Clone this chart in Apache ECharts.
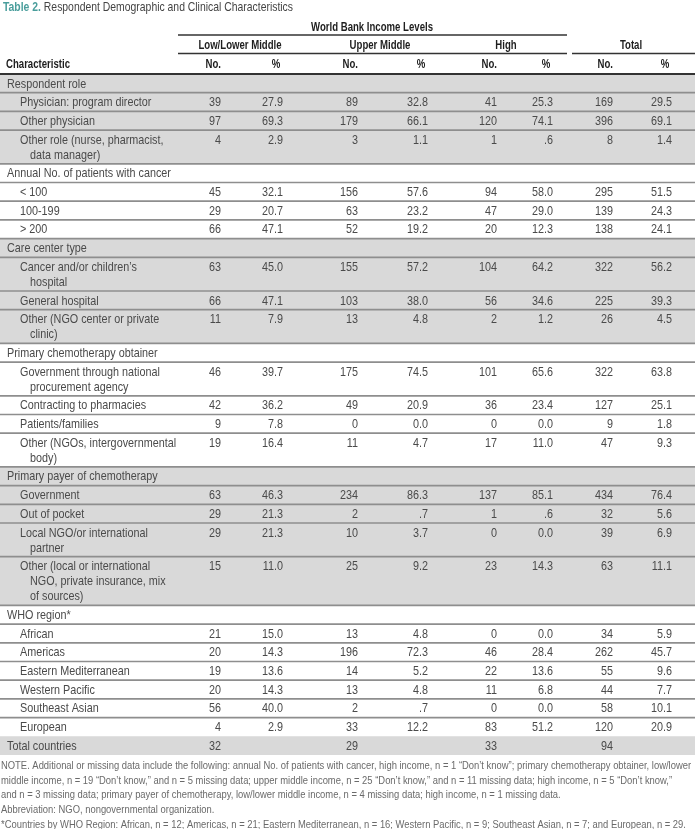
<!DOCTYPE html>
<html><head><meta charset="utf-8">
<script src="https://cdn.jsdelivr.net/npm/echarts@6/dist/echarts.min.js"></script>
<style>html,body{margin:0;padding:0;background:#fff}#c{width:695px;height:829px}</style>
</head><body><div id="c"></div>
<script>
// ---------------- DATA ----------------
const sectionNames = ["Respondent role", "Annual No. of patients with cancer", "Care center type",
  "Primary chemotherapy obtainer", "Primary payer of chemotherapy", "WHO region*"];
const itemSection = [0,0,0, 1,1,1, 2,2,2, 3,3,3,3, 4,4,4,4, 5,5,5,5,5,5];
const itemLabels = [
  "Physician: program director", "Other physician", "Other role (nurse, pharmacist,\ndata manager)",
  "< 100", "100-199", "> 200",
  "Cancer and/or children\u2019s\nhospital", "General hospital", "Other (NGO center or private\nclinic)",
  "Government through national\nprocurement agency", "Contracting to pharmacies", "Patients/families", "Other (NGOs, intergovernmental\nbody)",
  "Government", "Out of pocket", "Local NGO/or international\npartner", "Other (local or international\nNGO, private insurance, mix\nof sources)",
  "African", "Americas", "Eastern Mediterranean", "Western Pacific", "Southeast Asian", "European"
];
const lowNo    = [39,97,4, 45,29,66, 63,66,11, 46,42,9,19, 63,29,29,15, 21,20,19,20,56,4];
const lowPct   = [27.9,69.3,2.9, 32.1,20.7,47.1, 45.0,47.1,7.9, 39.7,36.2,7.8,16.4, 46.3,21.3,21.3,11.0, 15.0,14.3,13.6,14.3,40.0,2.9];
const upperNo  = [89,179,3, 156,63,52, 155,103,13, 175,49,0,11, 234,2,10,25, 13,196,14,13,2,33];
const upperPct = [32.8,66.1,1.1, 57.6,23.2,19.2, 57.2,38.0,4.8, 74.5,20.9,0.0,4.7, 86.3,0.7,3.7,9.2, 4.8,72.3,5.2,4.8,0.7,12.2];
const highNo   = [41,120,1, 94,47,20, 104,56,2, 101,36,0,17, 137,1,0,23, 0,46,22,11,0,83];
const highPct  = [25.3,74.1,0.6, 58.0,29.0,12.3, 64.2,34.6,1.2, 65.6,23.4,0.0,11.0, 85.1,0.6,0.0,14.3, 0.0,28.4,13.6,6.8,0.0,51.2];
const totalNo  = [169,396,8, 295,139,138, 322,225,26, 322,127,9,47, 434,32,39,63, 34,262,55,44,58,120];
const totalPct = [29.5,69.1,1.4, 51.5,24.3,24.1, 56.2,39.3,4.5, 63.8,25.1,1.8,9.3, 76.4,5.6,6.9,11.1, 5.9,45.7,9.6,7.7,10.1,20.9];
const totalCountriesLabel = "Total countries";
const totalCountries = [32, 29, 33, 94];
const groupNames = ["Low/Lower Middle", "Upper Middle", "High", "Total"];
const spanTitle = "World Bank Income Levels";
const noteLines = [
  "NOTE. Additional or missing data include the following: annual No. of patients with cancer, high income, n = 1 \u201cDon\u2019t know\u201d; primary chemotherapy obtainer, low/lower",
  "middle income, n = 19 \u201cDon\u2019t know,\u201d and n = 5 missing data; upper middle income, n = 25 \u201cDon\u2019t know,\u201d and n = 11 missing data; high income, n = 5 \u201cDon\u2019t know,\u201d",
  "and n = 3 missing data; primary payer of chemotherapy, low/lower middle income, n = 4 missing data; high income, n = 1 missing data.",
  "Abbreviation: NGO, nongovernmental organization.",
  "*Countries by WHO Region: African, n = 12; Americas, n = 21; Eastern Mediterranean, n = 16; Western Pacific, n = 9; Southeast Asian, n = 7; and European, n = 29."
];

// ---------------- LAYOUT ----------------
const W = 695;
const FONT = '"Liberation Sans", Arial, sans-serif';
const SX = 0.8;           // horizontal condensing to mimic a narrow typeface
const BODY = 13.5;
const ROW_H = 18.7, LINE_H = 15, TABLE_TOP = 74;
const colRight = [221, 283, 358, 428, 497, 553, 613, 672];
const groupCenter = [240, 380, 506, 631];
const TXT = '#4a4a4a', HEAD = '#1e1e1e', SHADE = '#d9d9d9', SEP = '#8e8e8e';

function fmtPct(v) { let s = v.toFixed(1); if (v > 0 && v < 1) s = s.slice(1); return s; }
function txt(x, y, text, o) {
  o = o || {};
  return {type: 'text', x: x, y: y, scaleX: o.sx || SX, silent: true,
    style: {text: text, x: 0, y: 0, align: o.align || 'left', verticalAlign: 'middle',
      fontSize: o.size || BODY, fontFamily: FONT, fontWeight: o.weight || 'normal', fill: o.fill || TXT, rich: o.rich}};
}

const rows = [];
sectionNames.forEach((s, si) => {
  const shaded = si % 2 === 0;
  rows.push({kind: 'section', label: [s], shaded});
  itemSection.forEach((sec, i) => {
    if (sec === si) rows.push({kind: 'item', label: itemLabels[i].split('\n'), idx: i, shaded});
  });
});
rows.push({kind: 'total', label: [totalCountriesLabel], shaded: true});
let acc = 0;
rows.forEach(r => { r.top = acc; r.h = ROW_H + (r.label.length - 1) * LINE_H; acc += r.h; });
const tableH = acc;

function renderRow(params, api) {
  const i = api.value(0);
  const r = rows[i];
  const p0 = api.coord([0, r.top]);
  const p1 = api.coord([W, r.top + r.h]);
  const ch = [];
  if (r.shaded) ch.push({type: 'rect', shape: {x: p0[0], y: p0[1], width: p1[0] - p0[0], height: p1[1] - p0[1]}, style: {fill: SHADE}});
  if (i === 0) {
    ch.push({type: 'line', shape: {x1: p0[0], y1: p0[1], x2: p1[0], y2: p0[1]}, style: {stroke: '#333', lineWidth: 2}});
  } else if (r.kind !== 'total') {
    ch.push({type: 'line', shape: {x1: p0[0], y1: p0[1], x2: p1[0], y2: p0[1]}, style: {stroke: SEP, lineWidth: 1.7}});
  }
  const firstY = p0[1] + ROW_H / 2 + 0.5;
  r.label.forEach((t, k) => {
    const x = r.kind === 'item' ? (k === 0 ? 20 : 30) : 7;
    ch.push(txt(api.coord([x, 0])[0], firstY + k * LINE_H, t));
  });
  let vals = null;
  if (r.kind === 'item') {
    const j = r.idx;
    vals = [lowNo[j], fmtPct(lowPct[j]), upperNo[j], fmtPct(upperPct[j]), highNo[j], fmtPct(highPct[j]), totalNo[j], fmtPct(totalPct[j])];
  } else if (r.kind === 'total') {
    vals = [totalCountries[0], '', totalCountries[1], '', totalCountries[2], '', totalCountries[3], ''];
  }
  if (vals) vals.forEach((v, c) => {
    if (v === '') return;
    ch.push(txt(api.coord([colRight[c], 0])[0], firstY, String(v), {align: 'right'}));
  });
  return {type: 'group', children: ch};
}

const graphics = [];
graphics.push(txt(3, 7, '{a|Table 2.} {b|Respondent Demographic and Clinical Characteristics}', {size: 13, sx: 0.8,
  rich: {a: {fontSize: 13, fontFamily: FONT, fontWeight: 'bold', fill: '#4a9e9c'}, b: {fontSize: 13, fontFamily: FONT, fill: '#444'}}}));
const HB = {size: 12.8, weight: 'bold', fill: HEAD, sx: 0.75};
graphics.push(txt(372, 27, spanTitle, Object.assign({align: 'center'}, HB)));
graphics.push({type: 'line', shape: {x1: 178, y1: 35, x2: 567, y2: 35}, style: {stroke: '#333', lineWidth: 1.5}});
groupNames.forEach((g, k) => graphics.push(txt(groupCenter[k], 45, g, Object.assign({align: 'center'}, HB))));
graphics.push({type: 'line', shape: {x1: 178, y1: 53.5, x2: 567, y2: 53.5}, style: {stroke: '#333', lineWidth: 1.5}});
graphics.push({type: 'line', shape: {x1: 572, y1: 53.5, x2: 695, y2: 53.5}, style: {stroke: '#333', lineWidth: 1.5}});
graphics.push(txt(6, 64, 'Characteristic', HB));
colRight.forEach((x, c) => {
  const isPct = c % 2 === 1;
  graphics.push(txt(isPct ? x - 7 : x, 64, isPct ? '%' : 'No.', Object.assign({align: isPct ? 'center' : 'right'}, HB)));
});
noteLines.forEach((t, k) => {
  graphics.push(txt(1, TABLE_TOP + tableH + 11 + k * 14.6, t, {size: 11.4, fill: '#6a6a6a', sx: 0.826}));
});

const chart = echarts.init(document.getElementById('c'), null, {renderer: 'canvas'});
chart.setOption({
  animation: false,
  backgroundColor: '#fff',
  grid: {left: 0, right: 0, top: TABLE_TOP, height: tableH, containLabel: false},
  xAxis: {type: 'value', min: 0, max: W, show: false},
  yAxis: {type: 'value', min: 0, max: tableH, inverse: true, show: false},
  graphic: graphics,
  series: [{type: 'custom', renderItem: renderRow, data: rows.map((r, i) => [i, r.top, r.h]), encode: {x: -1, y: 1}, clip: false}]
});
</script></body></html>
